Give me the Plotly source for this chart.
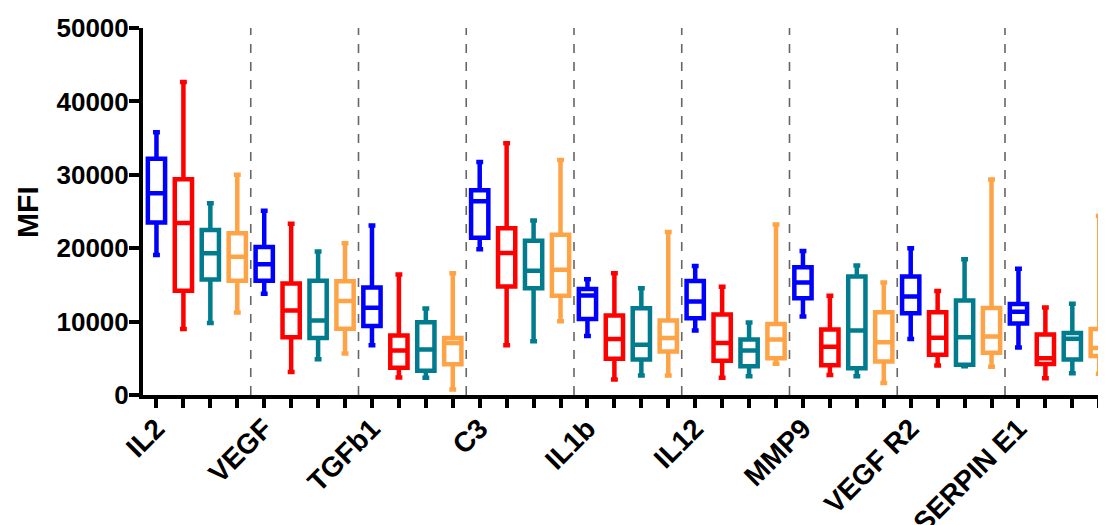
import plotly.graph_objects as go

groups = ["IL2", "VEGF", "TGFb1", "C3", "IL1b", "IL12", "MMP9", "VEGF R2", "SERPIN E1"]
series_names = ["Blue", "Red", "Teal", "Orange"]
colors = ["#0000FF", "#FF0000", "#007C8E", "#FFA347"]

# values per series, one entry per group (in group order)
blue_upper  = [35800, 25100, 23100, 31750, 15760, 17570, 19630, 20000, 17210]
blue_q3     = [32200, 20180, 14650, 27900, 14430, 15530, 17390, 16140, 12400]
blue_median = [27470, 17800, 11890, 26400, 13560, 12730, 15310, 13420, 11340]
blue_q1     = [23500, 15560,  9400, 21440, 10370, 10460, 13180, 11140,  9740]
blue_lower  = [19060, 13790,  6790, 19860,  8040,  8800, 10710,  7630,  6480]

red_upper  = [42640, 23330, 16400, 34310, 16580, 14740, 13520, 14160, 11910]
red_q3     = [29390, 15180,  8110, 22730, 10830, 10960,  8930, 11280,  8250]
red_median = [23440, 11510,  6050, 19330,  7630,  7090,  6560,  7810,  5000]
red_q1     = [14200,  7880,  3710, 14780,  4930,  4660,  4040,  5480,  4210]
red_lower  = [ 8990,  3150,  2380,  6790,  2110,  2350,  2720,  4010,  2290]

teal_upper  = [26110, 19540, 11790, 23780, 14560,  9890, 17660, 18500, 12430]
teal_q3     = [22490, 15560,  9920, 21020, 11820,  7570, 16140, 12870,  8450]
teal_median = [19320, 10160,  6210, 16940,  6830,  6070,  8800,  7880,  7680]
teal_q1     = [15720,  7770,  3300, 14540,  4850,  3910,  3640,  4120,  4820]
teal_lower  = [ 9820,  4860,  2350,  7310,  2650,  2560,  2560,  3900,  2950]

orange_upper  = [30000, 20680, 16580, 32000, 22210, 23230, 15330, 29370, 24400]
orange_q3     = [22040, 15490,  7770, 21830, 10150,  9670, 11280, 11860,  9000]
orange_median = [18840, 12810,  7070, 17050,  7770,  7570,  7200,  7980,  6400]
orange_q1     = [15560,  9010,  4190, 13520,  5940,  5000,  4580,  5740,  5300]
orange_lower  = [11240,  5660,   750, 10040,  2650,  4250,  1630,  3850,  2900]

y_ticks = [0, 10000, 20000, 30000, 40000, 50000]
y_title = "MFI"

series = [
    (blue_lower, blue_q1, blue_median, blue_q3, blue_upper),
    (red_lower, red_q1, red_median, red_q3, red_upper),
    (teal_lower, teal_q1, teal_median, teal_q3, teal_upper),
    (orange_lower, orange_q1, orange_median, orange_q3, orange_upper),
]

n_series = len(series_names)
n_groups = len(groups)

fig = go.Figure()
for si, (lo, q1, med, q3, up) in enumerate(series):
    xs = [g * n_series + si for g in range(n_groups)]
    fig.add_trace(go.Box(
        x=xs, lowerfence=lo, q1=q1, median=med, q3=q3, upperfence=up,
        name=series_names[si],
        line=dict(color=colors[si], width=4.5),
        fillcolor="white",
        width=0.64,
        whiskerwidth=0.4,
        boxpoints=False,
        hoverinfo="skip",
    ))

# dashed separators between groups
for g in range(1, n_groups):
    xb = g * n_series - 0.5
    fig.add_shape(type="line", xref="x", yref="paper", x0=xb, x1=xb, y0=0, y1=1.0,
                  line=dict(color="#666666", width=1.6, dash="dash"), layer="below")

tickvals = list(range(n_groups * n_series))
ticktext = [groups[i // n_series] if i % n_series == 0 else "" for i in tickvals]

font_family = "Arial, Liberation Sans, sans-serif"

# the page body adds an 8px offset, so the figure is 8px smaller than the window
fig.update_layout(
    width=1098, height=517,
    margin=dict(l=135, r=0, t=19.5, b=129.5),
    paper_bgcolor="white", plot_bgcolor="white",
    showlegend=False,
    boxmode="overlay",
    font=dict(family=font_family, color="black"),
    xaxis=dict(
        range=[-0.5, 35.25],
        automargin=False,
        tickvals=tickvals, ticktext=ticktext,
        tickangle=-45,
        ticks="outside", ticklen=9, tickwidth=4, tickcolor="black",
        ticklabelstandoff=-7,
        showline=True, linewidth=4, linecolor="black",
        showgrid=False, zeroline=False,
        tickfont=dict(size=28, family=font_family, color="black", weight="bold"),
    ),
    yaxis=dict(
        range=[0, 50000],
        automargin=False,
        tickvals=y_ticks, tickformat="d",
        ticks="outside", ticklen=10, tickwidth=4, tickcolor="black",
        ticklabelstandoff=-5,
        showline=True, linewidth=4, linecolor="black",
        showgrid=False, zeroline=False,
        tickfont=dict(size=26, family=font_family, color="black", weight="bold"),
    ),
)

fig.add_annotation(
    text="<b>" + y_title + "</b>", xref="paper", yref="paper",
    x=-0.12, y=0.5, textangle=-90, showarrow=False,
    font=dict(size=30, family=font_family, color="black"),
    xanchor="center", yanchor="middle",
)

fig.write_html("out.html")
